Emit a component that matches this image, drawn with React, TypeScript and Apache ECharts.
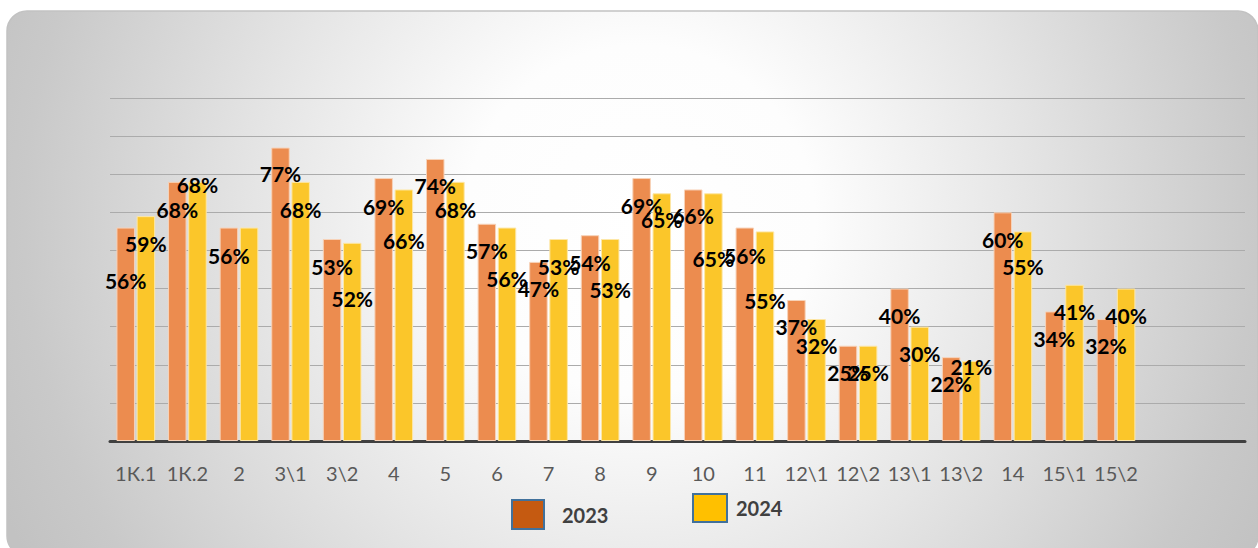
import React, { useEffect, useRef } from "react";
import * as echarts from "echarts";

const categories = ["1К.1", "1К.2", "2", "3\\1", "3\\2", "4", "5", "6", "7", "8", "9", "10", "11", "12\\1", "12\\2", "13\\1", "13\\2", "14", "15\\1", "15\\2"];
const values2023 = [56, 68, 56, 77, 53, 69, 74, 57, 47, 54, 69, 66, 56, 37, 25, 40, 22, 60, 34, 32];
const values2024 = [59, 68, 56, 68, 52, 66, 68, 56, 53, 53, 65, 65, 55, 32, 25, 30, 21, 55, 41, 40];
const seriesNames = ["2023", "2024"];

// label centre drop below bar top (px); null = label not shown
const labelDrop2023 = [53, 28, 28, 26, 27, 28, 27, 27, 27, 27, 27, 26, 28, 27, 27, 27, 26, 27, 27, 26];
const labelDrop2024 = [27, 3, null, 28, 56, 51, 28, 51, 27, 50, 26, 65, 69, 26, 27, 27, 6, 35, 27, 27];

const FONT = "Lato";

function buildData(values: number[], drops: (number | null)[]) {
  return values.map((v, i) => {
    const d = drops[i];
    if (d === null) return { value: v, label: { show: false } };
    return { value: v, label: { offset: [0, d - 10] } };
  });
}

export default function App() {
  const ref = useRef<HTMLDivElement>(null);
  useEffect(() => {
    if (!ref.current) return;
    const chart = echarts.init(ref.current, null, { renderer: "svg" });
    const axisCats = [...categories, "", ""];
    const labelStyle = {
      show: true,
      position: "insideTop",
      distance: 0,
      formatter: "{c}%",
      color: "#000000",
      fontFamily: FONT,
      fontWeight: "bold",
      fontSize: 21,
      lineHeight: 20,
    };
    chart.setOption({
      animation: false,
      graphic: {
        elements: [
          {
            type: "rect",
            z: -10,
            silent: true,
            shape: { x: 7, y: 11, width: 1251, height: 545, r: 20 },
            style: {
              fill: {
                type: "radial",
                x: 640,
                y: 220,
                r: 700,
                global: true,
                colorStops: [
                  { offset: 0, color: "#ffffff" },
                  { offset: 0.25, color: "#fdfdfd" },
                  { offset: 0.55, color: "#e5e5e5" },
                  { offset: 0.88, color: "#c9c9c9" },
                  { offset: 1, color: "#c2c2c2" },
                ],
              },
              stroke: "#c2c2c2",
              lineWidth: 1.5,
            },
          },
        ],
      },
      grid: { left: 110, right: 13, top: 98, bottom: 107, containLabel: false },
      legend: [
        {
          left: 506,
          top: 494,
          icon: "rect",
          itemWidth: 32,
          itemHeight: 29,
          data: [
            {
              name: seriesNames[0],
              itemStyle: { color: "#C55A11", borderColor: "#41719C", borderWidth: 2 },
            },
          ],
          textStyle: {
            color: "#404040",
            fontFamily: FONT,
            fontWeight: "bold",
            fontSize: 20,
            padding: [2, 0, 0, 13],
          },
        },
        {
          left: 687,
          top: 488,
          icon: "rect",
          itemWidth: 34,
          itemHeight: 28,
          data: [
            {
              name: seriesNames[1],
              itemStyle: { color: "#FFC000", borderColor: "#41719C", borderWidth: 2 },
            },
          ],
          textStyle: {
            color: "#404040",
            fontFamily: FONT,
            fontWeight: "bold",
            fontSize: 20,
            padding: [18, 0, 0, 4],
          },
        },
      ],
      xAxis: {
        type: "category",
        data: axisCats,
        axisLine: { show: true, lineStyle: { color: "#404040", width: 3 } },
        axisTick: { show: false },
        axisLabel: {
          interval: 0,
          color: "#595959",
          fontFamily: FONT,
          fontSize: 20,
          margin: 22,
        },
      },
      yAxis: {
        type: "value",
        min: 0,
        max: 90,
        interval: 10,
        axisLabel: { show: false },
        axisLine: { show: false },
        axisTick: { show: false },
        splitLine: { lineStyle: { color: "#ababab", width: 1.2 } },
      },
      series: [
        {
          name: seriesNames[0],
          type: "bar",
          data: buildData(values2023, labelDrop2023),
          barWidth: 18.5,
          barGap: "9%",
          itemStyle: { color: "#EC8C4F", borderColor: "#F7D2B8", borderWidth: 1 },
          label: labelStyle,
          z: 3,
        },
        {
          name: seriesNames[1],
          type: "bar",
          data: buildData(values2024, labelDrop2024),
          barWidth: 18.5,
          itemStyle: { color: "#FBC62A", borderColor: "#FDE7A6", borderWidth: 1 },
          label: labelStyle,
          z: 3,
        },
      ],
    });
    return () => chart.dispose();
  }, []);
  return (
    <div
      ref={ref}
      style={{ position: "absolute", left: 0, top: 0, width: 1258, height: 548 }}
    />
  );
}
